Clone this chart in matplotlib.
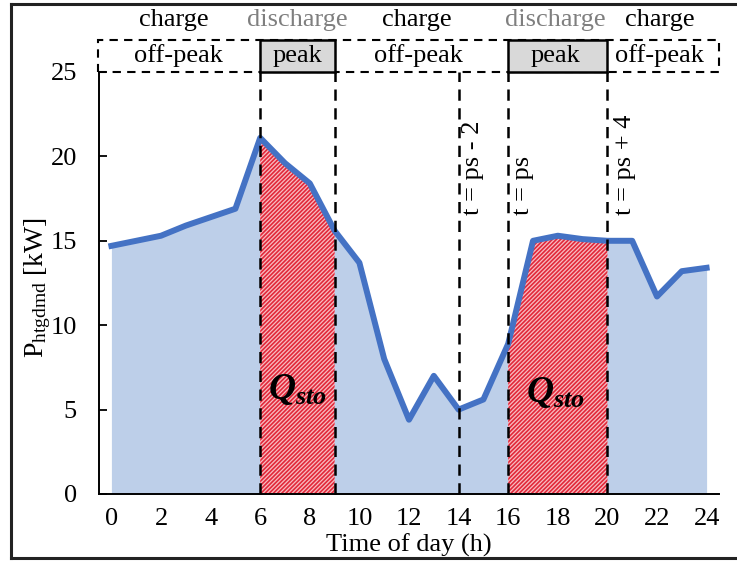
import numpy as np
import matplotlib
matplotlib.use("Agg")
import matplotlib.pyplot as plt
from matplotlib.patches import Rectangle

plt.rcParams['font.family'] = ['Liberation Serif', 'DejaVu Serif']
plt.rcParams['mathtext.fontset'] = 'custom'
plt.rcParams['mathtext.rm'] = 'Liberation Serif'
plt.rcParams['mathtext.it'] = 'Liberation Serif:italic'
plt.rcParams['mathtext.bf'] = 'Liberation Serif:bold'
plt.rcParams['mathtext.bfit'] = 'Liberation Serif:bold:italic'
plt.rcParams['hatch.linewidth'] = 1.2

# hourly heating demand
hours = np.arange(0, 25)
p_demand = [14.7, 15.0, 15.3, 15.9, 16.4, 16.9, 21.1, 19.6, 18.4, 15.6, 13.7,
            8.0, 4.4, 7.0, 5.0, 5.6, 8.9, 15.0, 15.3, 15.1, 15.0, 15.0, 11.7,
            13.2, 13.4]

peaks = [(6, 9), (16, 20)]
vlines = [6, 9, 14, 16, 20]
mode_labels = ["charge", "discharge", "charge", "discharge", "charge"]
mode_x = [2.5, 7.5, 12.3, 17.9, 22.1]
tariff_labels = ["off-peak", "peak", "off-peak", "peak", "off-peak"]
tariff_x = [2.7, 7.5, 12.4, 17.9, 22.1]
marker_labels = ["t = ps - 2", "t = ps", "t = ps + 4"]
marker_x = [14.6, 16.6, 20.7]

fs = 19

fig = plt.figure(figsize=(7.37, 5.61), dpi=100)
ax = fig.add_axes([99 / 737, 1 - 494 / 561, 620 / 737, 422 / 561])

# figure border (left, top, bottom)
fig.add_artist(plt.Line2D([11 / 737, 11 / 737], [3 / 561, 1 - 4 / 561],
                          color='#222222', lw=2.2, transform=fig.transFigure))
fig.add_artist(plt.Line2D([11 / 737, 1], [1 - 4 / 561, 1 - 4 / 561],
                          color='#222222', lw=2.2, transform=fig.transFigure))
fig.add_artist(plt.Line2D([11 / 737, 1], [3 / 561, 3 / 561],
                          color='#222222', lw=2.2, transform=fig.transFigure))

y = np.array(p_demand)
ax.fill_between(hours, 0, y, color='#bdcfe9', lw=0, zorder=1)
for a, b in peaks:
    m = (hours >= a) & (hours <= b)
    ax.fill_between(hours[m], 0, y[m], facecolor='#f7bcc1', edgecolor='#e2283a',
                    hatch='/' * 8, lw=0, zorder=2)
ax.plot(hours, y, color='#4472c4', lw=4.3, solid_joinstyle='round', zorder=4)

for xv in vlines:
    ax.plot([xv, xv], [0, 25], color='black', lw=1.8, dashes=(4.5, 3), zorder=5,
            clip_on=False)

ax.set_xlim(-0.5, 24.5)
ax.set_ylim(0, 25)
ax.set_xticks(range(0, 25, 2))
ax.set_yticks(range(0, 26, 5))
ax.tick_params(axis='x', length=0, pad=10, labelsize=fs)
ax.tick_params(axis='y', direction='in', length=6, width=1.3, pad=16, labelsize=fs)
for s in ['top', 'right']:
    ax.spines[s].set_visible(False)
for s in ['left', 'bottom']:
    ax.spines[s].set_linewidth(1.4)

ax.set_xlabel('Time of day (h)', fontsize=fs, labelpad=3)
ax.set_ylabel(r'P$_{\mathrm{htgdmd}}$ [kW]', fontsize=20)
ax.yaxis.set_label_coords(-0.075, 0.49)

# tariff band above the plot
ax.add_patch(Rectangle((-0.55, 25), 25.05, 1.9, fill=False, ls=(0, (4, 3)),
                       lw=1.5, ec='black', clip_on=False, zorder=5))
for a, b in peaks:
    ax.add_patch(Rectangle((a, 25), b - a, 1.9, fc='#d9d9d9', ec='black', lw=1.8,
                           clip_on=False, zorder=6))
for lab, xv in zip(tariff_labels, tariff_x):
    ax.text(xv, 25.95, lab, ha='center', va='center', fontsize=fs, zorder=7,
            clip_on=False)
for lab, xv in zip(mode_labels, mode_x):
    ax.text(xv, 28.1, lab, ha='center', va='center', fontsize=fs,
            color='#7f7f7f' if lab == 'discharge' else 'black', clip_on=False)

for lab, xv in zip(marker_labels, marker_x):
    ax.text(xv, 16.5, lab, rotation=90, ha='center', va='bottom', fontsize=fs,
            zorder=7)

for xv, yv in [(7.5, 6.2), (17.9, 6.0)]:
    ax.text(xv, yv, r'$\mathbfit{Q}_{\mathbfit{sto}}$', ha='center', va='center',
            fontsize=27, zorder=7)

fig.savefig('out.png', dpi=100)
